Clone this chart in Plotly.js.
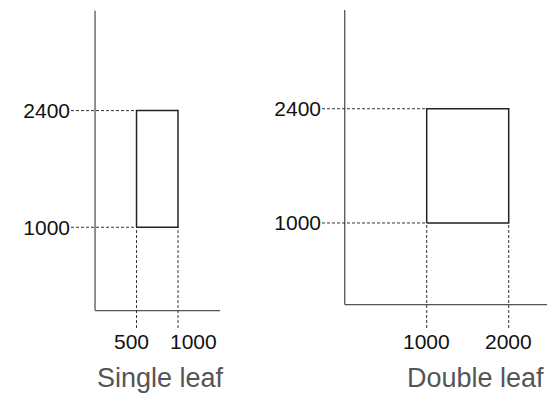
<!DOCTYPE html>
<html>
<head>
<meta charset="utf-8">
<script src="https://cdn.plot.ly/plotly-3.0.1.min.js"></script>
<style>html,body{margin:0;padding:0;background:#fff;}#chart{width:547px;height:406px;}</style>
</head>
<body>
<div id="chart"></div>
<script>
// Data
var panelNames = ['Single leaf', 'Double leaf'];
var widthMin = [500, 1000];
var widthMax = [1000, 2000];
var heightMin = [1000, 1000];
var heightMax = [2400, 2400];
var xTickVals = [[500, 1000], [1000, 2000]];
var xTickText = [['500', '1000'], ['1000', '2000']];
var yTickVals = [1000, 2400];
var yTickText = ['1000', '2400'];

// Layout config (positions / styles)
var xRanges = [[-290, 1510], [-277, 2467]];
var yRanges = [[-210, 3600], [-287, 3610]];
var xDomains = [[71/547, 220.3/547], [322/547, 1]];
var yDomains = [[(406-328.1)/406, (406-10.6)/406], [(406-328)/406, (406-10)/406]];
var axisTop = [3600, 3610];
var axisRight = [1510, 2467];
var xLabelShift = [[-5, 15], [0, 0]];
var xLabelY = (406-341.5)/406;
var titleX = [160/547, 475/547];
var titleY = (406-378)/406;
var fontFam = 'Liberation Sans, Arial, sans-serif';

var traces = [];
var shapes = [];
var annotations = [];
var layout = {
  width: 547, height: 406,
  margin: {l: 0, r: 0, t: 0, b: 0},
  paper_bgcolor: '#fff', plot_bgcolor: 'rgba(0,0,0,0)',
  showlegend: false,
  font: {family: fontFam, color: '#111'}
};

for (var i = 0; i < panelNames.length; i++) {
  var xa = i === 0 ? 'x' : 'x2';
  var ya = i === 0 ? 'y' : 'y2';
  var xmin = xRanges[i][0], ymin = yRanges[i][0];
  var dashStyle = {color: '#333', width: 1, dash: '3px,2px'};
  // dashed guides (horizontal)
  traces.push({type: 'scatter', mode: 'lines', xaxis: xa, yaxis: ya, hoverinfo: 'skip',
    x: [xmin, widthMin[i], null, xmin, widthMin[i]],
    y: [heightMax[i], heightMax[i], null, heightMin[i], heightMin[i]],
    line: dashStyle});
  // dashed guides (vertical)
  traces.push({type: 'scatter', mode: 'lines', xaxis: xa, yaxis: ya, hoverinfo: 'skip',
    x: [widthMin[i], widthMin[i], null, widthMax[i], widthMax[i]],
    y: [ymin, heightMin[i], null, ymin, heightMin[i]],
    line: dashStyle});
  // rectangle
  traces.push({type: 'scatter', mode: 'lines', xaxis: xa, yaxis: ya, name: panelNames[i],
    x: [widthMin[i], widthMax[i], widthMax[i], widthMin[i], widthMin[i]],
    y: [heightMin[i], heightMin[i], heightMax[i], heightMax[i], heightMin[i]],
    line: {color: '#222', width: 1.5}});
  // axis lines
  shapes.push({type: 'line', xref: xa, yref: ya, x0: 0, x1: 0, y0: 0, y1: axisTop[i],
    line: {color: '#555', width: 1.3}, layer: 'below'});
  shapes.push({type: 'line', xref: xa, yref: ya, x0: 0, x1: axisRight[i], y0: 0, y1: 0,
    line: {color: '#555', width: 1.3}, layer: 'below'});
  var axKeyX = i === 0 ? 'xaxis' : 'xaxis2';
  var axKeyY = i === 0 ? 'yaxis' : 'yaxis2';
  layout[axKeyX] = {domain: xDomains[i], range: xRanges[i], anchor: ya,
    showgrid: false, zeroline: false, showline: false, ticks: '',
    showticklabels: false, fixedrange: true};
  layout[axKeyY] = {domain: yDomains[i], range: yRanges[i], anchor: xa,
    showgrid: false, zeroline: false, showline: false, ticks: '',
    tickvals: yTickVals, ticktext: yTickText,
    tickfont: {size: 21, color: '#111'}, fixedrange: true};
  // x tick labels
  for (var k = 0; k < xTickVals[i].length; k++) {
    annotations.push({xref: xa, yref: 'paper', x: xTickVals[i][k], y: xLabelY,
      xanchor: 'center', yanchor: 'middle', showarrow: false, xshift: xLabelShift[i][k],
      text: xTickText[i][k], font: {size: 21, color: '#111', family: fontFam}});
  }
  annotations.push({xref: 'paper', yref: 'paper', x: titleX[i], y: titleY,
    xanchor: 'center', yanchor: 'middle', showarrow: false, text: panelNames[i],
    font: {size: 27, color: '#555', family: fontFam}});
}
layout.shapes = shapes;
layout.annotations = annotations;

Plotly.newPlot('chart', traces, layout, {displayModeBar: false, staticPlot: true});
</script>
</body>
</html>
